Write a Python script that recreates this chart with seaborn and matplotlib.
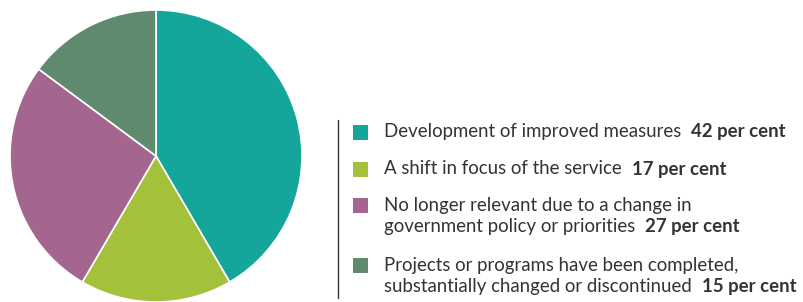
import matplotlib
matplotlib.use("Agg")
import matplotlib.pyplot as plt
import seaborn as sns

categories = [
    "Development of improved measures",
    "A shift in focus of the service",
    "No longer relevant due to a change in\ngovernment policy or priorities",
    "Projects or programs have been completed,\nsubstantially changed or discontinued",
]
values = [42, 17, 27, 15]
value_labels = ["42 per cent", "17 per cent", "27 per cent", "15 per cent"]
colors = ["#15A69B", "#A3C13A", "#A4668F", "#5F8A6D"]

sns.set_theme(style="white")
plt.rcParams["font.family"] = ["Lato", "DejaVu Sans"]

W, H = 804, 302
fig = plt.figure(figsize=(W / 100, H / 100), dpi=100)

# pie axes: center (156,156), radius 146 in pixels
cx, cy, r = 156, 156, 146
ax = fig.add_axes([(cx - r) / W, (H - cy - r) / H, 2 * r / W, 2 * r / H])
palette = sns.color_palette(colors)
ax.pie(values, colors=palette, startangle=90, counterclock=False,
       wedgeprops=dict(edgecolor="white", linewidth=1.2))
ax.set_xlim(-1, 1)
ax.set_ylim(-1, 1)
ax.set_aspect("equal")
ax.axis("off")

# legend
lax = fig.add_axes([0, 0, 1, 1])
lax.set_xlim(0, W)
lax.set_ylim(H, 0)
lax.axis("off")
lax.plot([338, 338], [120, 298], color="#333333", lw=1)

fig.canvas.draw()
renderer = fig.canvas.get_renderer()
sq_y = [132, 169, 205, 265]
text_col = "#333333"
fs = 13.4
for cat, lab, col, y in zip(categories, value_labels, palette, sq_y):
    lax.add_patch(plt.Rectangle((353, y - 7.5), 15, 15, color=col, lw=0))
    lines = cat.split("\n")
    for i, line in enumerate(lines):
        yy = y + i * 21.5
        t = lax.text(384, yy, line, fontsize=fs, color=text_col, va="center", ha="left")
        if i == len(lines) - 1:
            bb = t.get_window_extent(renderer)
            x_end = bb.x1 + 10
            lax.text(x_end, yy, lab, fontsize=fs, color=text_col, va="center",
                     ha="left", fontweight="bold")

fig.savefig("out.png", dpi=100)
